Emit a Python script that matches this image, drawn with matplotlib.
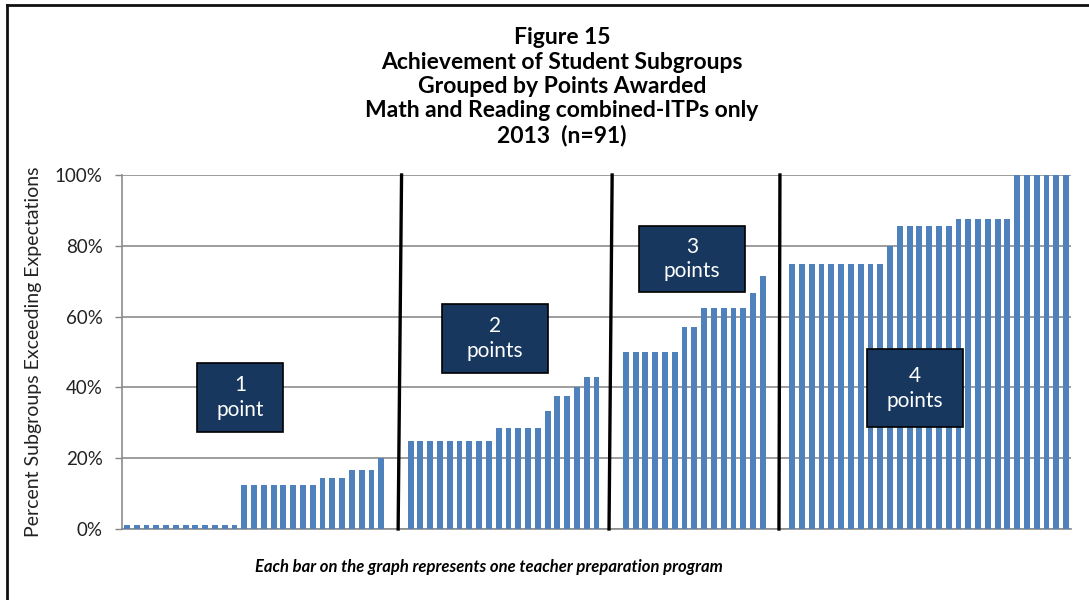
import matplotlib
matplotlib.use("Agg")
import matplotlib.pyplot as plt
from matplotlib.patches import Rectangle
from matplotlib.lines import Line2D
from matplotlib.ticker import FuncFormatter

plt.rcParams['font.family'] = ['Lato', 'DejaVu Sans']

# Data: percent of subgroups exceeding expectations, one bar per program
group1 = [1]*12 + [12.5]*8 + [14.3]*3 + [16.7]*3 + [20]
group2 = [25]*9 + [28.6]*5 + [33.3] + [37.5]*2 + [40] + [42.9]*2
group3 = [50]*6 + [57.1]*2 + [62.5]*5 + [66.7] + [71.4]
group4 = [75]*10 + [80] + [85.7]*6 + [87.5]*6 + [100]*6
groups = [group1, group2, group3, group4]
box_labels = ["1\npoint", "2\npoints", "3\npoints", "4\npoints"]
y_ticks = [0, 20, 40, 60, 80, 100]
title_lines = ["Figure 15", "Achievement of Student Subgroups", "Grouped by Points Awarded",
               "Math and Reading combined-ITPs only", "2013  (n=91)"]
ylabel = "Percent Subgroups Exceeding Expectations"
caption = "Each bar on the graph represents one teacher preparation program"
gap_slots = 2  # blank categories between groups

W, H = 1089, 600
fig = plt.figure(figsize=(W/100, H/100), dpi=100)
ax = fig.add_axes([122/W, 1-529/H, 949/W, 354/H])

bar_color = "#4F81BD"
xs, ys = [], []
pos = 0
dividers = []
for gi, g in enumerate(groups):
    for v in g:
        xs.append(pos); ys.append(v); pos += 1
    if gi < len(groups)-1:
        dividers.append(pos - 0.5 + gap_slots/2)
        pos += gap_slots
ax.bar(xs, ys, width=0.6, color=bar_color, zorder=3)
ax.set_xlim(-0.5, pos - 0.5)
ax.set_ylim(0, 100)

ax.set_yticks(y_ticks)
ax.yaxis.set_major_formatter(FuncFormatter(lambda v, p: f"{int(v)}%"))
ax.tick_params(axis='y', length=5, width=1, color="#868686", labelsize=13.5, labelcolor="#222222", pad=9)
ax.set_xticks([])
ax.grid(axis='y', color="#8c8c8c", lw=1.2, zorder=0)
for s in ['top', 'right']:
    ax.spines[s].set_visible(False)
for s in ['left', 'bottom']:
    ax.spines[s].set_color("#8c8c8c")
    ax.spines[s].set_linewidth(1.2)
ax.set_ylabel(ylabel, fontsize=14, color="#222222")
ax.yaxis.set_label_coords(-0.084, 0.5)

# divider lines (slightly slanted like the original hand-drawn lines)
# (shift from gap centre, slant in slots)
adjust = [(0.4, 0.35), (-0.06, 0.32), (0.2, 0.1)]
for d, (sh, sl) in zip(dividers, adjust):
    c = d + sh
    ax.add_line(Line2D([c - sl/2, c + sl/2], [0, 100], color="black", lw=2.4, zorder=5, clip_on=False))

# text boxes (axes coordinates)
box_pos = [(0.079, 0.274, 0.0906, 0.195), (0.337, 0.4407, 0.1117, 0.195),
           (0.5448, 0.6695, 0.1117, 0.186), (0.785, 0.288, 0.1012, 0.22)]
for (x0, y0, w, h), lab in zip(box_pos, box_labels):
    ax.add_patch(Rectangle((x0, y0), w, h, transform=ax.transAxes, facecolor="#17375E",
                           edgecolor="black", lw=1.2, zorder=6))
    ax.text(x0 + w/2, y0 + h/2, lab, transform=ax.transAxes, ha='center', va='center',
            color="white", fontsize=15, linespacing=1.3, zorder=7)

# title
for i, t in enumerate(title_lines):
    fig.text(562/W, 1-(38 + 24.3*i)/H, t, ha='center', va='center', fontsize=16.5,
             fontweight='bold', color="black")

fig.text(489/W, 1-567/H, caption, ha='center', va='center', fontsize=12,
         fontweight='bold', fontstyle='italic')

# outer border (left and top)
fig.add_artist(Line2D([7/W, 7/W], [0, 1-5/H], color="#111111", lw=2, transform=fig.transFigure))
fig.add_artist(Line2D([7/W, 1], [1-5/H, 1-5/H], color="#111111", lw=2, transform=fig.transFigure))

fig.savefig("out.png", dpi=100)
